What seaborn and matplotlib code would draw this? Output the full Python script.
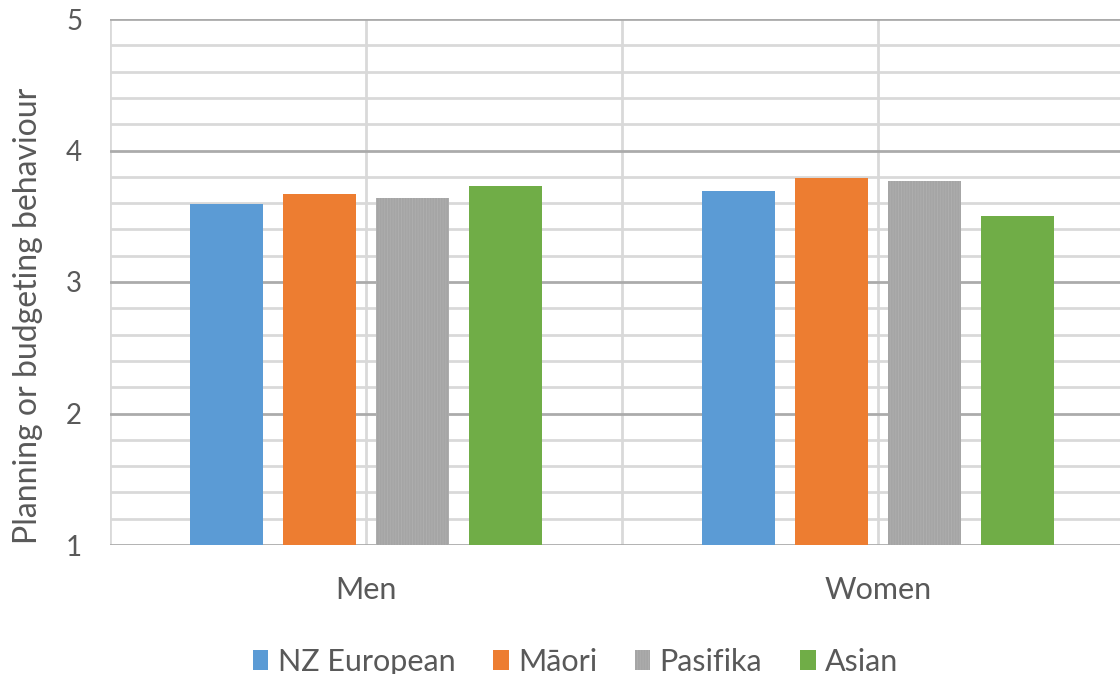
import numpy as np
import pandas as pd
import matplotlib
matplotlib.use("Agg")
import matplotlib.pyplot as plt
import matplotlib.patches as mpatches
from matplotlib.ticker import MultipleLocator
import seaborn as sns

# values
groups = ["Men", "Women"]
ethnicities = ["NZ European", "Māori", "Pasifika", "Asian"]
men_scores = [3.59, 3.67, 3.64, 3.73]
women_scores = [3.69, 3.79, 3.77, 3.50]
colours = ["#5b9bd5", "#ed7d31", "#a5a5a5", "#70ad47"]
y_ticks = [1, 2, 3, 4, 5]

df = pd.DataFrame({
    "group": np.repeat(groups, len(ethnicities)),
    "ethnicity": ethnicities * len(groups),
    "score": men_scores + women_scores,
})

sns.set_theme(style="white")
plt.rcParams["font.family"] = ["Lato", "DejaVu Sans"]
plt.rcParams["hatch.linewidth"] = 0.6
text_col = "#595959"
hatch_col = "#afafaf"

fig = plt.figure(figsize=(11.2, 6.74), dpi=100)
ax = fig.add_axes([110 / 1120, 129 / 674, 1024 / 1120, 526 / 674])

sns.barplot(data=df, x="group", y="score", hue="ethnicity", hue_order=ethnicities,
            palette=colours, saturation=1, width=0.727, gap=0.215, legend=False, ax=ax,
            errorbar=None, linewidth=0, zorder=3)

# textured fill for the Pasifika bars
for bar in ax.containers[2]:
    bar.set_hatch("||||||")
    bar.set_edgecolor(hatch_col)

ax.set_ylim(1, 5)
ax.set_xlim(-0.5, 1.5)
ax.set_yticks(y_ticks)
ax.yaxis.set_minor_locator(MultipleLocator(0.2))
ax.xaxis.set_minor_locator(MultipleLocator(0.5))
ax.grid(which="minor", axis="both", color="#d9d9d9", linewidth=2, zorder=0)
ax.grid(which="major", axis="x", color="#d9d9d9", linewidth=2, zorder=0)
ax.grid(which="major", axis="y", color="#ababab", linewidth=2, zorder=1)
ax.set_axisbelow(True)
for s in ax.spines.values():
    s.set_visible(False)

ax.tick_params(axis="y", which="both", length=0, pad=20, labelsize=20, labelcolor=text_col)
ax.tick_params(axis="x", which="both", length=0, pad=22, labelsize=22, labelcolor=text_col)
ax.set_xlabel("")
ax.set_ylabel("Planning or budgeting behaviour", fontsize=23, color=text_col, va="center")
ax.yaxis.set_label_coords(-0.08, 0.435)

handles = [mpatches.Patch(facecolor=c, edgecolor=hatch_col if i == 2 else c,
                          hatch="||||||" if i == 2 else None, linewidth=0)
           for i, c in enumerate(colours)]
leg = fig.legend(handles, ethnicities, loc="center", bbox_to_anchor=(0.514, 0.018),
                 ncol=4, frameon=False, fontsize=22, handlelength=0.5, handleheight=0.6,
                 handletextpad=0.3, columnspacing=1.25, labelcolor=text_col)

fig.savefig("out.png", dpi=100)
